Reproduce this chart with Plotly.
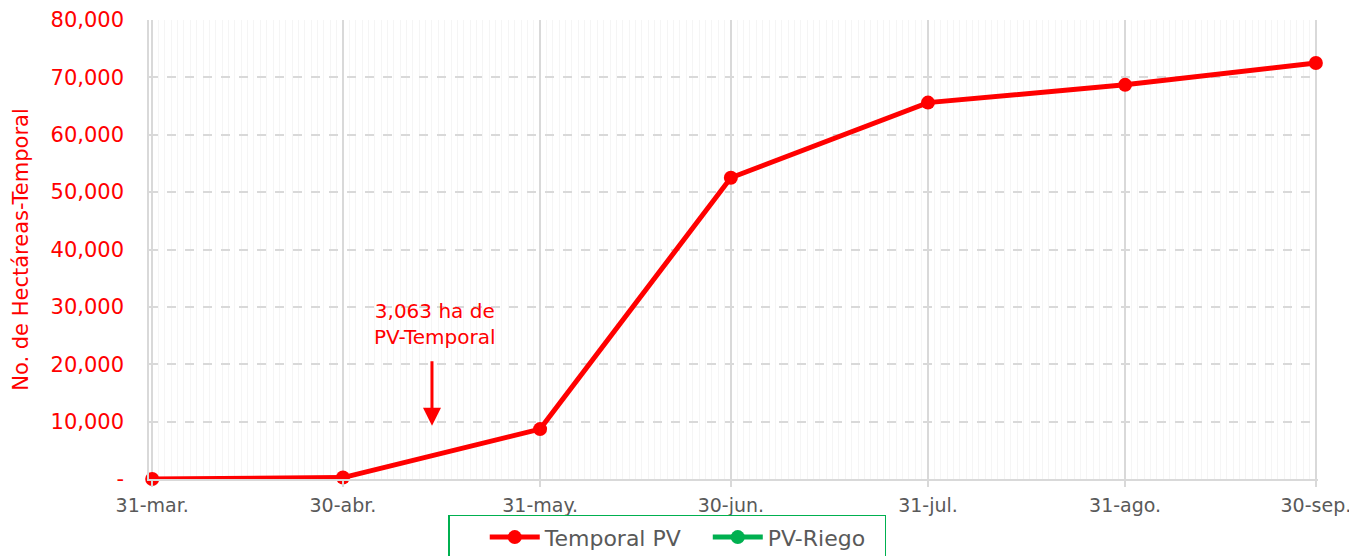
import plotly.graph_objects as go

dates = ["2023-03-31", "2023-04-30", "2023-05-31", "2023-06-30", "2023-07-31", "2023-08-31", "2023-09-30"]
tick_labels = ["31-mar.", "30-abr.", "31-may.", "30-jun.", "31-jul.", "31-ago.", "30-sep."]
temporal_pv = [0, 250, 8700, 52500, 65600, 68700, 72500]
pv_riego = [None] * len(dates)

y_ticks = [0, 10000, 20000, 30000, 40000, 50000, 60000, 70000, 80000]
y_labels = ["-", "10,000", "20,000", "30,000", "40,000", "50,000", "60,000", "70,000", "80,000"]

RED = "#FF0000"
GREEN = "#00B050"
FONT = "DejaVu Sans"
NB = "\u00a0"

fig = go.Figure()
fig.add_trace(go.Scatter(x=dates, y=temporal_pv, name="Temporal PV" + NB * 3, mode="lines+markers",
                         line=dict(color=RED, width=5), marker=dict(color=RED, size=14), cliponaxis=False))
fig.add_trace(go.Scatter(x=dates, y=pv_riego, name="PV-Riego" + NB * 2, mode="lines+markers",
                         line=dict(color=GREEN, width=5), marker=dict(color=GREEN, size=14)))

fig.add_annotation(x="2023-05-14 12:00", y=22300, text="3,063 ha de<br>PV-Temporal", showarrow=False,
                   yanchor="bottom", font=dict(family=FONT, size=20, color=RED))
fig.add_annotation(x="2023-05-14", y=9300, ax="2023-05-14", ay=20800, axref="x", ayref="y",
                   text="", showarrow=True, arrowhead=2, arrowsize=1.2, arrowwidth=3, arrowcolor=RED)

fig.update_layout(
    width=1357, height=556,
    margin=dict(l=141, r=47, t=12, b=85, autoexpand=False),
    plot_bgcolor="white", paper_bgcolor="white",
    font=dict(family=FONT),
    showlegend=True,
    legend=dict(orientation="h", x=0.4435, xanchor="center", y=-0.078, yanchor="top",
                bordercolor=GREEN, borderwidth=1.5, font=dict(family=FONT, size=22, color="#595959"),
                title=dict(text=NB * 3, side="left"),
                itemwidth=50, tracegroupgap=0),
    xaxis=dict(type="date", range=["2023-03-30 12:00", "2023-09-30 08:00"], automargin=False,
               tickvals=dates, ticktext=tick_labels,
               tickfont=dict(family=FONT, size=19, color="#595959"),
               ticklabelstandoff=2, ticklabeloverflow="allow",
               showgrid=True, gridcolor="#D9D9D9", gridwidth=1.5,
               ticks="outside", ticklen=6, tickcolor="#D9D9D9", tickwidth=1.5,
               minor=dict(dtick=86400000, tick0="2023-03-31", showgrid=True, gridcolor="#F5F5F5", gridwidth=1),
               showline=True, linecolor="#D9D9D9", linewidth=1.5, mirror=False, zeroline=False),
    yaxis=dict(range=[0, 80000], tickvals=y_ticks, ticktext=y_labels, automargin=False,
               tickfont=dict(family=FONT, size=21, color=RED),
               ticklabelstandoff=19, ticklabeloverflow="allow",
               showgrid=True, gridcolor="#D9D9D9", griddash="dash", gridwidth=1.5,
               showline=True, linecolor="#D9D9D9", linewidth=1.5, zeroline=False,
               title=dict(text="No. de Hectáreas-Temporal", font=dict(family=FONT, size=21, color=RED), standoff=16)),
)

fig.write_html("out.html")
